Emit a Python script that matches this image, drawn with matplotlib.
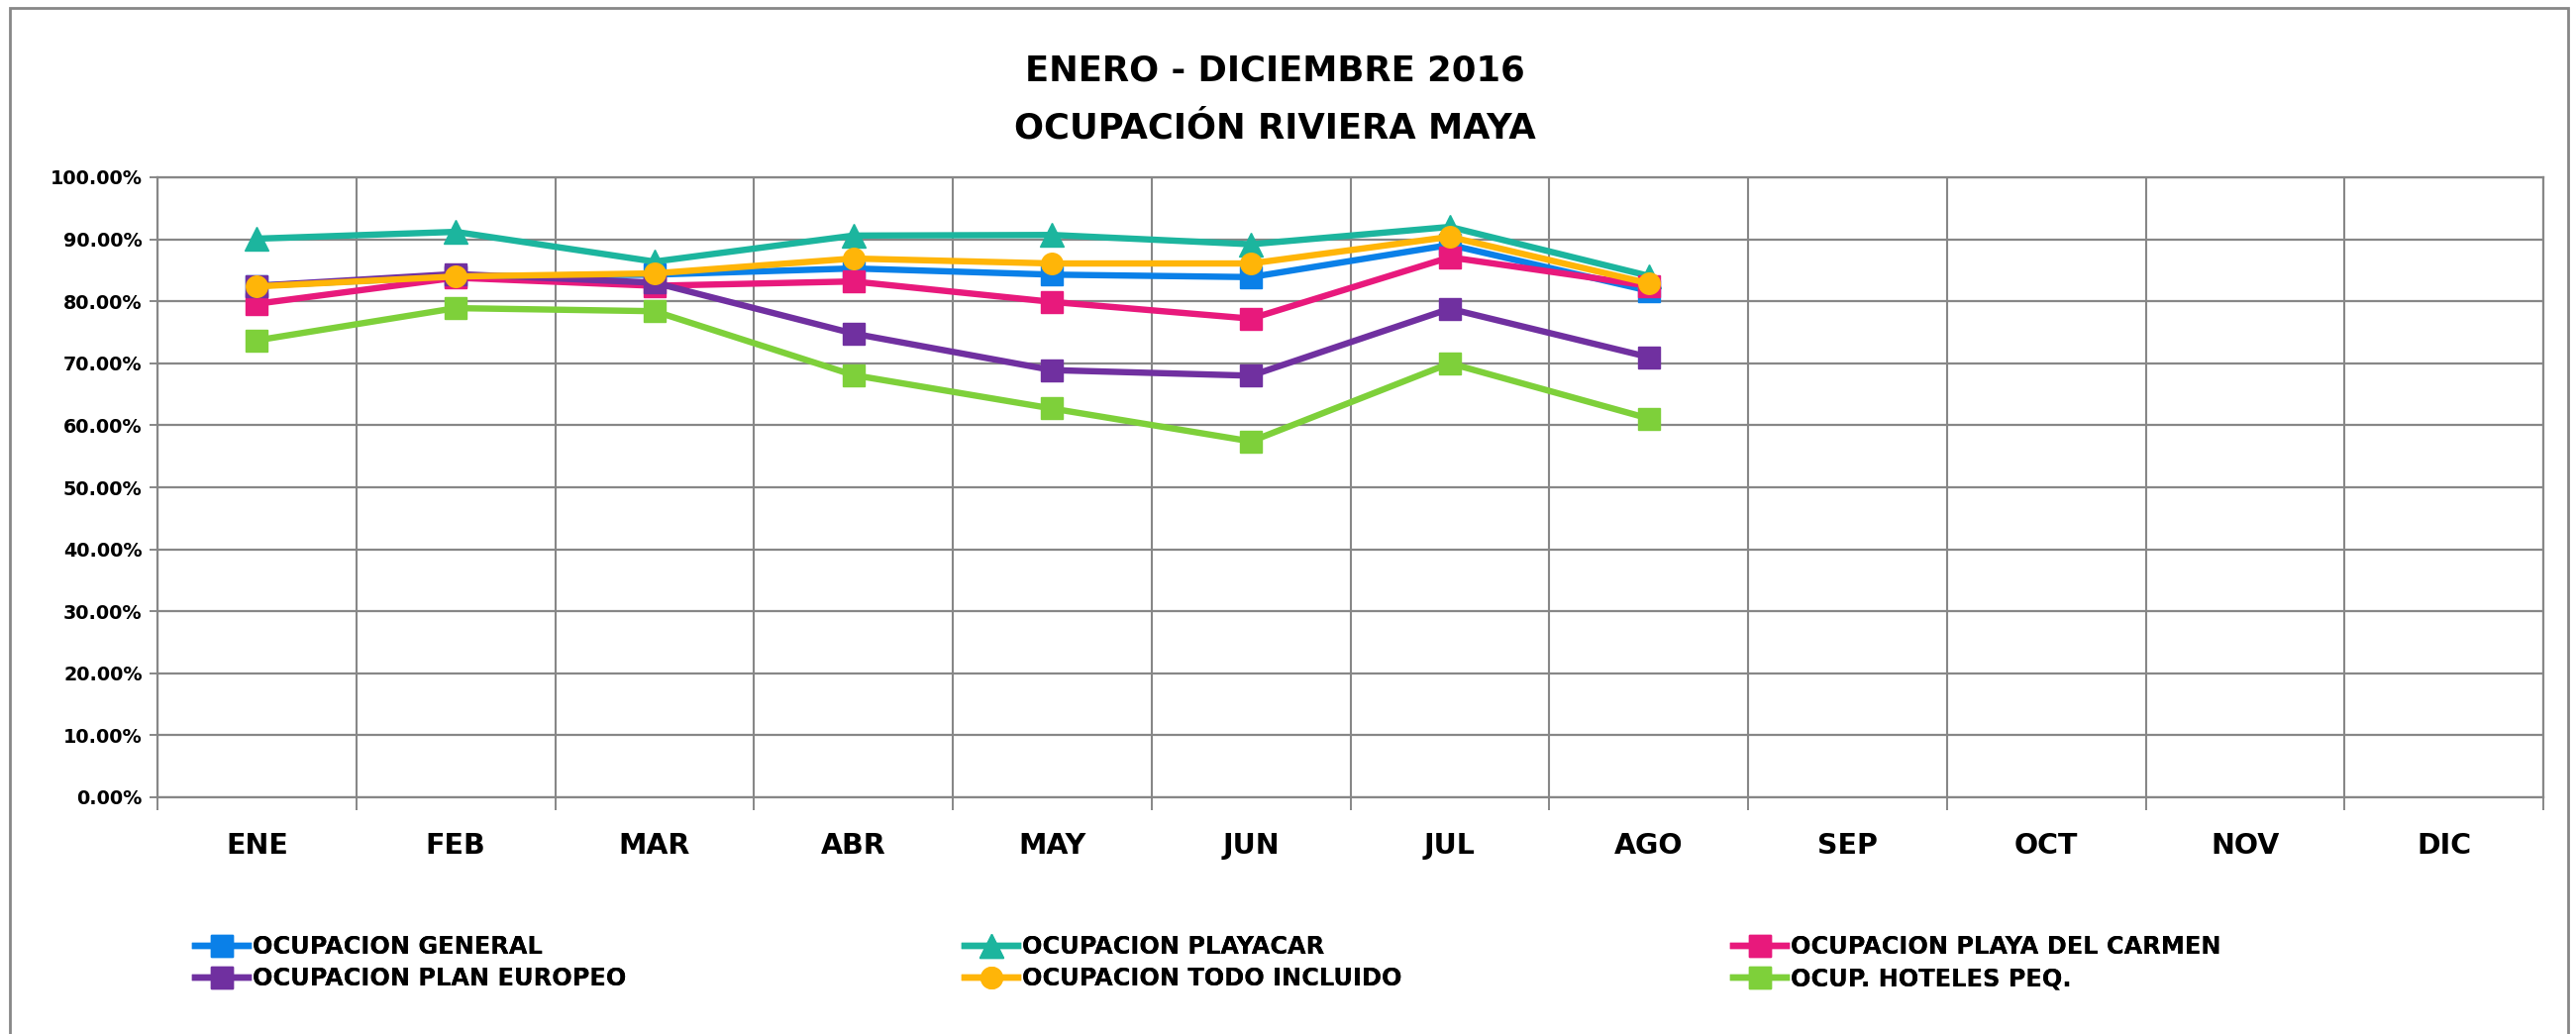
import matplotlib
matplotlib.use("Agg")
import matplotlib.pyplot as plt
from matplotlib.patches import Rectangle

plt.rcParams['font.family'] = ['DejaVu Sans']
plt.rcParams['font.weight'] = 'bold'

meses = ["ENE", "FEB", "MAR", "ABR", "MAY", "JUN", "JUL", "AGO", "SEP", "OCT", "NOV", "DIC"]

# valores (ene-ago)
general = [0.825, 0.840, 0.843, 0.853, 0.843, 0.839, 0.891, 0.817]
playacar = [0.901, 0.912, 0.864, 0.906, 0.907, 0.892, 0.920, 0.841]
playa_carmen = [0.796, 0.838, 0.825, 0.832, 0.799, 0.772, 0.871, 0.825]
plan_europeo = [0.825, 0.844, 0.830, 0.748, 0.689, 0.680, 0.788, 0.710]
todo_incluido = [0.824, 0.840, 0.845, 0.869, 0.861, 0.861, 0.904, 0.829]
hoteles_peq = [0.737, 0.789, 0.784, 0.681, 0.627, 0.574, 0.700, 0.611]

series = [
    ("OCUPACION GENERAL", general, "#0A80E8", "s"),
    ("OCUPACION PLAYACAR", playacar, "#1CB59E", "^"),
    ("OCUPACION PLAYA DEL CARMEN", playa_carmen, "#E8197C", "s"),
    ("OCUPACION PLAN EUROPEO", plan_europeo, "#7030A0", "s"),
    ("OCUPACION TODO INCLUIDO", todo_incluido, "#FFB508", "o"),
    ("OCUP. HOTELES PEQ.", hoteles_peq, "#7ED03A", "s"),
]

W, H = 2601, 1044
fig = plt.figure(figsize=(W / 100, H / 100), dpi=100)
ax = fig.add_axes([159 / W, 1 - 805 / H, (2568 - 159) / W, (805 - 179) / H])

gris = "#878787"
lineas = []
for nombre, vals, color, mk in series:
    ms = 17 if mk == "^" else 15.5
    ln, = ax.plot(range(len(vals)), vals, color=color, lw=4.6, marker=mk, ms=ms,
                  mec=color, mfc=color, label=nombre, clip_on=False)
    lineas.append(ln)

ax.set_xlim(-0.5, len(meses) - 0.5)
ax.set_ylim(0, 1.0)
ax.set_yticks([i / 10 for i in range(11)])
ax.set_yticklabels([f"{i * 10:.2f}%" for i in range(11)], fontsize=13.8, fontweight='bold')
ax.set_xticks(range(len(meses)))
ax.set_xticklabels(meses, fontsize=20.5, fontweight='bold')
ax.set_xticks([i - 0.5 for i in range(len(meses) + 1)], minor=True)

ax.tick_params(axis='x', which='major', length=0, pad=25)
ax.tick_params(axis='x', which='minor', length=9, width=1.4, color=gris)
ax.tick_params(axis='y', which='major', length=6, width=1.4, color=gris, pad=5)

ax.grid(True, axis='y', which='major', color=gris, lw=1.6)
ax.grid(True, axis='x', which='minor', color=gris, lw=1.5)
ax.set_axisbelow(True)
for s in ax.spines.values():
    s.set_color(gris)
    s.set_linewidth(1.6)

fig.text(1287 / W, 1 - 71 / H, "ENERO - DICIEMBRE 2016", ha='center', va='center',
         fontsize=25.5, fontweight='bold')
fig.text(1287 / W, 1 - 129 / H, "OCUPACIÓN RIVIERA MAYA", ha='center', va='center',
         fontsize=25.5, fontweight='bold')

# leyenda en tres columnas
cols_x = [197, 974, 1750]
for c, x in enumerate(cols_x):
    hs = [lineas[c], lineas[c + 3]]
    leg = fig.legend(handles=hs, loc='upper left', bbox_to_anchor=(x / W, 1 - 944 / H),
                     frameon=False, handlelength=2.25, handletextpad=0.15,
                     labelspacing=0.35, borderpad=0, borderaxespad=0,
                     prop={'weight': 'bold', 'size': 17.3})
    fig.add_artist(leg)

fig.add_artist(Rectangle((10 / W, -0.01), (2593 - 10) / W, 1.01 - 8 / H,
                         transform=fig.transFigure, fill=False, ec=gris, lw=2))

fig.savefig("out.png", dpi=100)
